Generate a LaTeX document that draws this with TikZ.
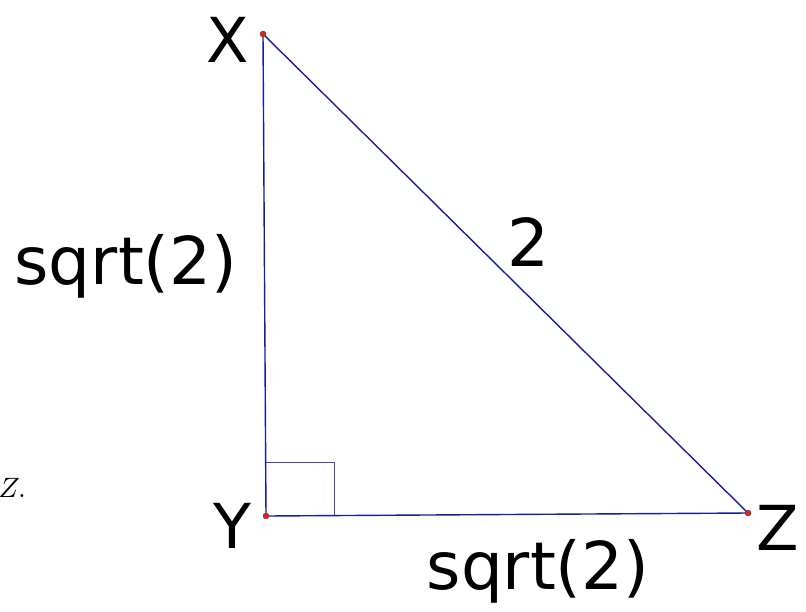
\documentclass[tikz,border=0pt]{standalone}
\usepackage{fontspec}
\newfontfamily\labfont{DejaVu Sans}
\definecolor{segblue}{RGB}{20,30,160}
\definecolor{ptred}{RGB}{230,30,10}
\begin{document}
\begin{tikzpicture}[x=1pt,y=-1pt,
  seg/.style={draw=segblue,line width=1.4pt},
  rbox/.style={draw=segblue!80,line width=0.8pt},
  pt/.style={circle,fill=ptred,draw=black!70,line width=0.4pt,inner sep=0pt,minimum size=6pt},
  lab/.style={font=\labfont\fontsize{62}{70}\selectfont,inner sep=0pt,text=black},
  sidelab/.style={font=\labfont\fontsize{66}{72}\selectfont,inner sep=0pt,text=black}]
\useasboundingbox (0,0) rectangle (806,611);
\coordinate (X) at (263,34);
\coordinate (Y) at (266,516);
\coordinate (Z) at (748,513);
\draw[rbox] (266,462) -| (334,516);
\draw[seg] (X) -- (Y) -- (Z) -- cycle;
\node[pt] (px) at (X) {};
\node[pt] (py) at (Y) {};
\node[pt] (pz) at (Z) {};
\node[lab] (lx) at (228,40) {X};
\node[lab] (ly) at (232,526) {Y};
\node[lab] (lz) at (778,528) {Z};
\node[sidelab] (l1) at (126,266) {sqrt(2)};
\node[sidelab] (l2) at (528,242) {2};
\node[sidelab] (l3) at (538,571) {sqrt(2)};
\node[anchor=west,inner sep=0pt,scale=2.8] (zz) at (-2,488) {$Z.$};
\end{tikzpicture}
\end{document}
